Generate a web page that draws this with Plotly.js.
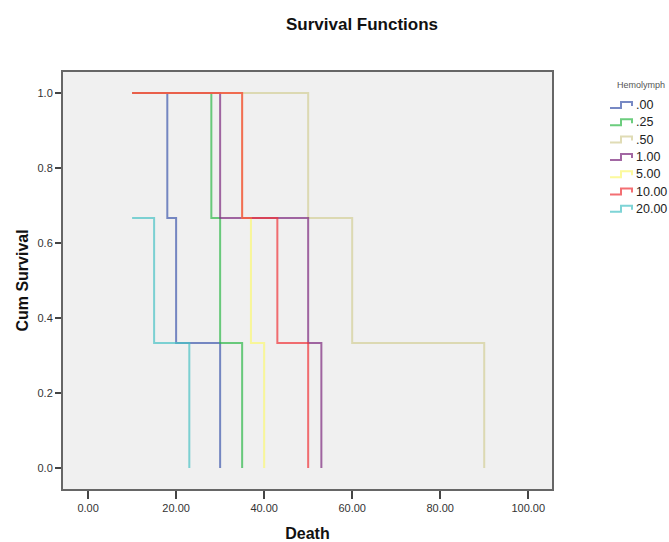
<!DOCTYPE html>
<html>
<head>
<meta charset="utf-8">
<script src="https://cdn.plot.ly/plotly-3.0.1.min.js"></script>
<style>html,body{margin:0;padding:0;background:#fff;}#chart{width:669px;height:542px;}</style>
</head>
<body>
<div id="chart"></div>
<script>
// Hemolymph groups
var groupNames = [".00", ".25", ".50", "1.00", "5.00", "10.00", "20.00"];
var groupColors = ["#3E58AC", "#2EB848", "#D3CE97", "#7C287D", "#FBF873", "#EF3338", "#48C2C5"];

// Kaplan-Meier step data: start time then event times, cumulative survival
var time00 = [10, 18, 20, 30];
var surv00 = [1.0, 0.6667, 0.3333, 0.0];
var time25 = [10, 28, 30, 35];
var surv25 = [1.0, 0.6667, 0.3333, 0.0];
var time50 = [10, 50, 60, 90];
var surv50 = [1.0, 0.6667, 0.3333, 0.0];
var time100 = [10, 30, 50, 53];
var surv100 = [1.0, 0.6667, 0.3333, 0.0];
var time500 = [10, 35, 37, 40];
var surv500 = [1.0, 0.6667, 0.3333, 0.0];
var time1000 = [10, 35, 43, 50];
var surv1000 = [1.0, 0.6667, 0.3333, 0.0];
var time2000 = [10, 15, 23];
var surv2000 = [0.6667, 0.3333, 0.0];

var xTickVals = [0, 20, 40, 60, 80, 100];
var xTickText = ["0.00", "20.00", "40.00", "60.00", "80.00", "100.00"];
var yTickVals = [0, 0.2, 0.4, 0.6, 0.8, 1.0];
var yTickText = ["0.0", "0.2", "0.4", "0.6", "0.8", "1.0"];

var times = [time00, time25, time50, time100, time500, time1000, time2000];
var survs = [surv00, surv25, surv50, surv100, surv500, surv1000, surv2000];

var traces = [];
for (var i = 0; i < groupNames.length; i++) {
  traces.push({
    type: "scatter",
    mode: "lines",
    name: groupNames[i],
    x: times[i],
    y: survs[i],
    line: {shape: "hv", color: groupColors[i], width: 2},
    opacity: 0.7,
    showlegend: false,
    hoverinfo: "skip"
  });
}

// Custom legend with step glyphs (pixel positions converted to paper coords)
var L = 63, R = 552, T = 72, B = 489;
function px(x) { return (x - L) / (R - L); }
function py(y) { return (B - y) / (B - T); }
var shapes = [];
var annotations = [];
annotations.push({
  xref: "paper", yref: "paper", x: px(641), y: py(85), text: "Hemolymph",
  showarrow: false, xanchor: "center", yanchor: "middle",
  font: {family: "Liberation Sans, Arial, sans-serif", size: 9, color: "#555"}
});
for (var j = 0; j < groupNames.length; j++) {
  var cy = 105 + j * 17.3;
  var path = "M " + px(610) + " " + py(cy + 3) +
             " L " + px(621) + " " + py(cy + 3) +
             " L " + px(621) + " " + py(cy - 3) +
             " L " + px(632) + " " + py(cy - 3) +
             " L " + px(632) + " " + py(cy + 1);
  shapes.push({
    type: "path", xref: "paper", yref: "paper", path: path,
    line: {color: groupColors[j], width: 2}, opacity: 0.7
  });
  annotations.push({
    xref: "paper", yref: "paper", x: px(634), y: py(cy), text: groupNames[j],
    showarrow: false, xanchor: "left", yanchor: "middle",
    font: {family: "Liberation Sans, Arial, sans-serif", size: 12.5, color: "#222"}
  });
}

var layout = {
  width: 669, height: 542,
  margin: {l: L, r: 669 - R, t: T, b: 542 - B, pad: 0},
  paper_bgcolor: "#ffffff",
  plot_bgcolor: "#f0f0f0",
  title: {
    text: "<b>Survival Functions</b>",
    x: px(362), xref: "paper", xanchor: "center",
    y: 1 - 24 / 542, yref: "container", yanchor: "middle",
    font: {family: "Liberation Sans, Arial, sans-serif", size: 17, color: "#111"}
  },
  xaxis: {
    range: [-5.7, 105.4],
    tickvals: xTickVals, ticktext: xTickText,
    ticks: "outside", ticklen: 8, tickwidth: 1.5, tickcolor: "#444",
    showgrid: false, zeroline: false,
    showline: true, linecolor: "#666", linewidth: 2, mirror: true,
    tickfont: {family: "Liberation Sans, Arial, sans-serif", size: 11, color: "#333"},
    title: {text: "<b>Death</b>", standoff: 16,
      font: {family: "Liberation Sans, Arial, sans-serif", size: 16, color: "#111"}}
  },
  yaxis: {
    range: [-0.056, 1.056],
    tickvals: yTickVals, ticktext: yTickText,
    ticks: "outside", ticklen: 6, tickwidth: 1.5, tickcolor: "#444",
    showgrid: false, zeroline: false,
    showline: true, linecolor: "#666", linewidth: 2, mirror: true,
    tickfont: {family: "Liberation Sans, Arial, sans-serif", size: 11, color: "#333"},
    title: {text: "<b>Cum Survival</b>", standoff: 5,
      font: {family: "Liberation Sans, Arial, sans-serif", size: 16, color: "#111"}}
  },
  shapes: shapes,
  annotations: annotations,
  showlegend: false
};

Plotly.newPlot("chart", traces, layout, {staticPlot: true, displayModeBar: false});
</script>
</body>
</html>
